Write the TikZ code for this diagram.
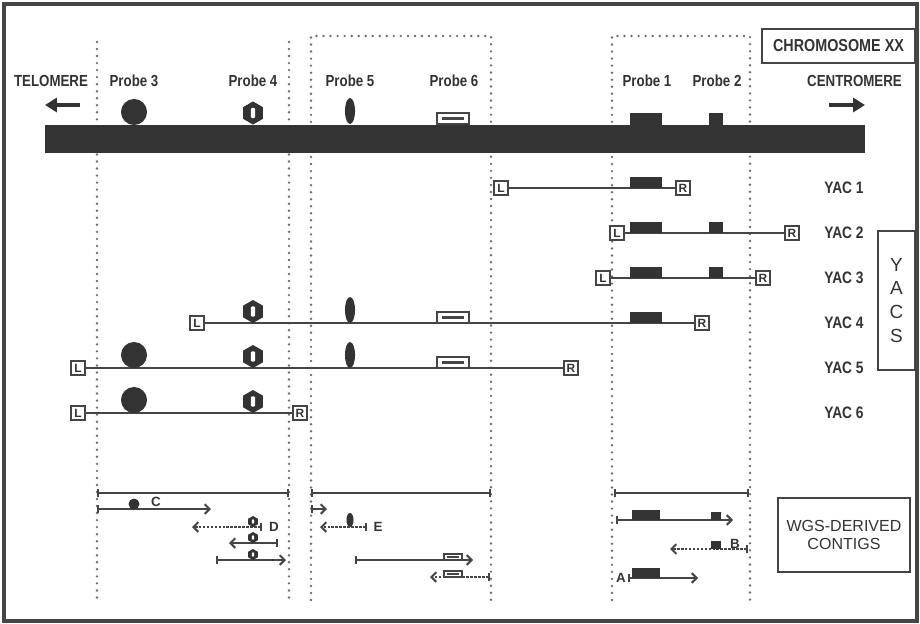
\documentclass[tikz,border=0pt]{standalone}
\usepackage{fontspec}
\setmainfont{Liberation Sans}
\newfontfamily\narrowfont{Liberation Sans}[FakeStretch=0.83]
\usetikzlibrary{arrows.meta}

% Define custom colors to match the image closely
\definecolor{ink}{HTML}{333333}
\definecolor{rule}{HTML}{454545}
\definecolor{dotgray}{HTML}{6E6E6E}

\tikzset{
    hexmark/.pic={
        \fill[ink] (90:8.2pt) -- (150:8.2pt) -- (210:8.2pt) -- (270:8.2pt) -- (330:8.2pt) -- (30:8.2pt) -- cycle;
        \fill[white, rounded corners=0.8pt] (-1.5pt,-3.6pt) rectangle (1.5pt,3.6pt);
    },
    panelmark/.pic={
        \draw[rule, line width=1.1pt, fill=white] (-11.4pt,-3.9pt) rectangle (11.4pt,3.9pt);
        \draw[rule, line width=1.5pt] (-8pt,0pt) -- (8pt,0pt);
    }
}

\begin{document}
\begin{tikzpicture}[
    x=0.025cm, y=-0.025cm,
    text=ink,
    probelabel/.style={font=\narrowfont\bfseries\fontsize{11.4}{13}\selectfont},
    yaclabel/.style={font=\narrowfont\bfseries\fontsize{11.8}{13}\selectfont},
    letter/.style={font=\bfseries\fontsize{9.5}{10}\selectfont},
    endbox/.style={draw=rule, fill=white, line width=1.1pt, minimum size=10pt, inner sep=0pt, font=\bfseries\fontsize{8.5}{8.5}\selectfont},
    plainbox/.style={draw=rule, line width=1.4pt, inner sep=0pt, align=center},
    dotline/.style={draw=dotgray, line width=1.9pt, line cap=round, dash pattern=on 0pt off 5pt},
    yacline/.style={draw=rule, line width=1.6pt},
    bigarrow/.style={draw=ink, line width=2.8pt, arrows={-Triangle[length=8.5pt,width=10pt]}},
    span/.style={draw=rule, line width=1.4pt, arrows={Bar[width=6pt]-Bar[width=6pt]}},
    contig/.style={draw=rule, line width=1.4pt, arrows={Bar[width=6pt]-Straight Barb[length=3.5pt,width=7pt]}},
    dashcontig/.style={contig, dash pattern=on 1.8pt off 1pt}
]
\useasboundingbox (0,0) rectangle (920,624);

% Outer frame
\draw[rule, line width=2.2pt] (4,4) rectangle (917,621);

% Dotted guide lines
\draw[dotline] (97,42) -- (97,600);
\draw[dotline] (289,42) -- (289,600);
\draw[dotline] (311,600) -- (311,36) -- (491,36) -- (491,600);
\draw[dotline] (612,600) -- (612,36) -- (750,36) -- (750,600);

% ==================== CHROMOSOME ====================
\node[plainbox, minimum width=109pt, minimum height=24pt, font=\narrowfont\bfseries\fontsize{12.3}{14}\selectfont] (title) at (838.5,46) {CHROMOSOME XX};

\node[probelabel] (telo) at (51,81) {TELOMERE};
\node[probelabel] (centro) at (854.5,81) {CENTROMERE};
\coordinate (telotail) at (80,105);
\coordinate (telotip) at (45,105);
\coordinate (centrotail) at (829,105);
\coordinate (centrotip) at (865,105);
\draw[bigarrow] (telotail) -- (telotip);
\draw[bigarrow] (centrotail) -- (centrotip);

\node[probelabel] (p3) at (134,81) {Probe 3};
\node[probelabel] (p4) at (253,81) {Probe 4};
\node[probelabel] (p5) at (350,81) {Probe 5};
\node[probelabel] (p6) at (454,81) {Probe 6};
\node[probelabel] (p1) at (647,81) {Probe 1};
\node[probelabel] (p2) at (717,81) {Probe 2};

\fill[ink] (45,125) rectangle (865,153);
\fill[ink] (134,112) circle [radius=9.25pt];
\pic at (253,113) {hexmark};
\fill[ink] (350,111) ellipse [x radius=3.6pt, y radius=9.25pt];
\pic at (453,118.5) {panelmark};
\fill[ink] (630,113) rectangle (662,125);
\fill[ink] (709,113) rectangle (723,125);

% ==================== YACS ====================
% YAC 1
\node[endbox] (l1) at (501,188) {L};
\node[endbox] (r1) at (683,188) {R};
\draw[yacline] (l1) -- (r1);
\fill[ink] (630,177) rectangle (662,188);
\node[yaclabel] (y1) at (844,188) {YAC 1};

% YAC 2
\node[endbox] (l2) at (617,233) {L};
\node[endbox] (r2) at (792,233) {R};
\draw[yacline] (l2) -- (r2);
\fill[ink] (630,222) rectangle (662,233);
\fill[ink] (709,222) rectangle (723,233);
\node[yaclabel] (y2) at (844,233) {YAC 2};

% YAC 3
\node[endbox] (l3) at (603,278) {L};
\node[endbox] (r3) at (763,278) {R};
\draw[yacline] (l3) -- (r3);
\fill[ink] (630,267) rectangle (662,278);
\fill[ink] (709,267) rectangle (723,278);
\node[yaclabel] (y3) at (844,278) {YAC 3};

% YAC 4
\node[endbox] (l4) at (197,323) {L};
\node[endbox] (r4) at (702,323) {R};
\draw[yacline] (l4) -- (r4);
\pic at (253,311.5) {hexmark};
\fill[ink] (350,310) ellipse [x radius=3.6pt, y radius=9.25pt];
\pic at (453,317.5) {panelmark};
\fill[ink] (630,312) rectangle (662,323);
\node[yaclabel] (y4) at (844,323) {YAC 4};

% YAC 5
\node[endbox] (l5) at (78,368) {L};
\node[endbox] (r5) at (571,368) {R};
\draw[yacline] (l5) -- (r5);
\fill[ink] (134,355) circle [radius=9.25pt];
\pic at (253,356.5) {hexmark};
\fill[ink] (350,355) ellipse [x radius=3.6pt, y radius=9.25pt];
\pic at (453,362.5) {panelmark};
\node[yaclabel] (y5) at (844,368) {YAC 5};

% YAC 6
\node[endbox] (l6) at (78,413) {L};
\node[endbox] (r6) at (300,413) {R};
\draw[yacline] (l6) -- (r6);
\fill[ink] (134,400) circle [radius=9.25pt];
\pic at (253,401.5) {hexmark};
\node[yaclabel] (y6) at (844,413) {YAC 6};

\node[plainbox, minimum width=26pt, minimum height=99pt, font=\fontsize{13.5}{17}\selectfont] (yacs) at (896.5,300.5) {Y\\A\\C\\S};

% ==================== WGS-DERIVED CONTIGS ====================
% Spans
\coordinate (s1a) at (97,493);  \coordinate (s1b) at (289,493);
\coordinate (s2a) at (311,493); \coordinate (s2b) at (491,493);
\coordinate (s3a) at (614,493); \coordinate (s3b) at (749,493);
\draw[span] (s1a) -- (s1b);
\draw[span] (s2a) -- (s2b);
\draw[span] (s3a) -- (s3b);

% Left block
\coordinate (ca) at (97,509);  \coordinate (cb) at (211,509);
\coordinate (da) at (262,527); \coordinate (db) at (192,527);
\coordinate (ga) at (278,543); \coordinate (gb) at (229,543);
\coordinate (ha) at (216,560); \coordinate (hb) at (286,560);
\draw[contig] (ca) -- (cb);
\draw[dashcontig] (da) -- (db);
\draw[contig] (ga) -- (gb);
\draw[contig] (ha) -- (hb);
\fill[ink] (134,504) circle [radius=3.9pt];
\pic[scale=0.48] at (253,521.5) {hexmark};
\pic[scale=0.48] at (253,537.5) {hexmark};
\pic[scale=0.48] at (253,554.5) {hexmark};
\node[letter] (labc) at (156,502) {C};
\node[letter] (labd) at (274,527) {D};

% Middle block
\coordinate (ka) at (311,509); \coordinate (kb) at (327,509);
\coordinate (ea) at (367,527); \coordinate (eb) at (320,527);
\coordinate (ma) at (355,560); \coordinate (mb) at (473,560);
\coordinate (na) at (490,577); \coordinate (nb) at (430,577);
\draw[contig] (ka) -- (kb);
\draw[dashcontig] (ea) -- (eb);
\draw[contig] (ma) -- (mb);
\draw[dashcontig] (na) -- (nb);
\fill[ink] (350,520) ellipse [x radius=2.5pt, y radius=5pt];
\pic[scale=0.56] at (453,557) {panelmark};
\pic[scale=0.56] at (453,574) {panelmark};
\node[letter] (labe) at (378,527) {E};

% Right block
\coordinate (qa) at (616,520); \coordinate (qb) at (733,520);
\coordinate (ba) at (748,549); \coordinate (bb) at (670,549);
\coordinate (aa) at (628,578); \coordinate (ab) at (698,578);
\draw[contig] (qa) -- (qb);
\draw[dashcontig] (ba) -- (bb);
\draw[contig] (aa) -- (ab);
\fill[ink] (632,510) rectangle (660,520);
\fill[ink] (711,512) rectangle (721,520);
\fill[ink] (711,541) rectangle (721,549);
\fill[ink] (632,568) rectangle (660,578);
\node[letter] (labb) at (735,544) {B};
\node[letter] (laba) at (621,578) {A};

\node[plainbox, minimum width=94pt, minimum height=52.6pt, font=\fontsize{11.4}{13}\selectfont] (wgs) at (844,535) {WGS-DERIVED\\CONTIGS};

\end{tikzpicture}
\end{document}
